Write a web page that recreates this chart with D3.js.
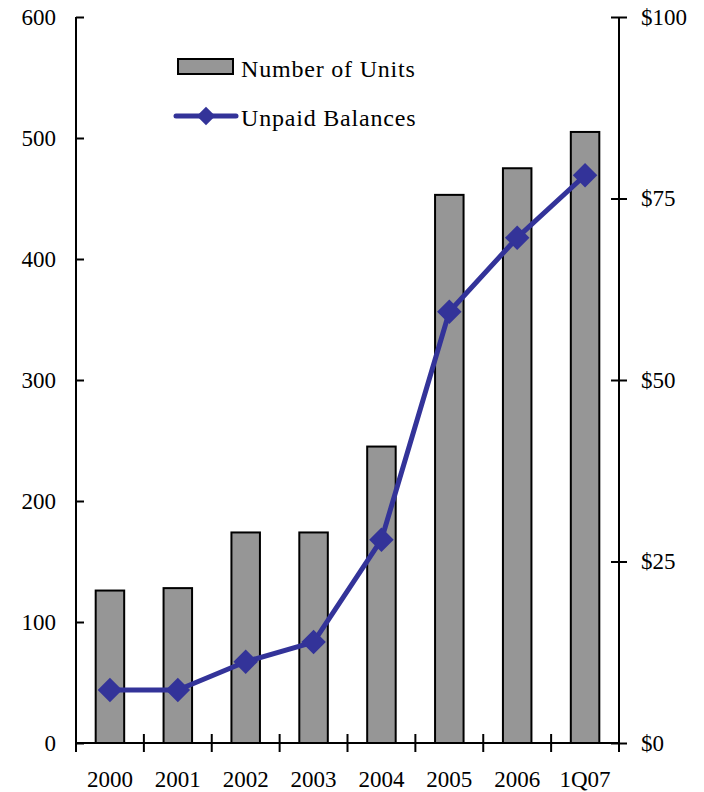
<!DOCTYPE html>
<html>
<head>
<meta charset="utf-8">
<script src="https://cdn.jsdelivr.net/npm/d3@7"></script>
<style>
  body { margin: 0; background: #fff; }
  text { font-family: "Liberation Serif", "Times New Roman", serif; fill: #000; }
</style>
</head>
<body>
<div id="chart"></div>
<script>
// data
var periods = ['2000', '2001', '2002', '2003', '2004', '2005', '2006', '1Q07'];
var units = [126, 128, 174, 174, 245, 453, 475, 505];
var balances = [7.3, 7.3, 11.2, 13.9, 28.0, 59.4, 69.6, 78.2];
var leftTicks = [0, 100, 200, 300, 400, 500, 600];
var rightTicks = [0, 25, 50, 75, 100];

var svgWidth = 704, svgHeight = 792;
var margin = { top: 17, left: 76, right: 85, bottom: 49 };
var w = svgWidth - margin.left - margin.right;
var h = svgHeight - margin.top - margin.bottom;

var svg = d3.select('#chart').append('svg')
  .attr('width', svgWidth)
  .attr('height', svgHeight);

var g = svg.append('g')
  .attr('transform', `translate(${margin.left}, ${margin.top})`);

var x = d3.scaleBand().domain(periods).range([0, w]).paddingInner(0.58).paddingOuter(0.29);
var xTicks = d3.scaleLinear().domain([0, periods.length]).range([0, w]);
var yLeft = d3.scaleLinear().domain([0, 600]).range([h, 0]);
var yRight = d3.scaleLinear().domain([0, 100]).range([h, 0]);

// bars
g.selectAll('rect.bar')
  .data(units)
  .enter()
  .append('rect')
  .attr('class', 'bar')
  .attr('x', (d, i) => x(periods[i]))
  .attr('y', d => yLeft(d))
  .attr('width', x.bandwidth())
  .attr('height', d => h - yLeft(d))
  .attr('fill', '#969696')
  .attr('stroke', '#000')
  .attr('stroke-width', 2);

// left axis
var leftAxis = g.append('g')
  .call(d3.axisLeft(yLeft).tickValues(leftTicks).tickSize(8).tickPadding(12));
leftAxis.select('.domain').attr('d', `M0,${h}V0`);
leftAxis.selectAll('.tick line').attr('x2', 8);

// right axis
var rightAxis = g.append('g')
  .attr('transform', `translate(${w}, 0)`)
  .call(d3.axisRight(yRight).tickValues(rightTicks).tickSize(8).tickPadding(14)
    .tickFormat(d => '$' + d));
rightAxis.select('.domain').attr('d', `M0,${h}V0`);
rightAxis.selectAll('.tick line').attr('x1', -8);

// bottom axis with ticks between categories
var bottom = g.append('g').attr('transform', `translate(0, ${h})`);
bottom.append('line')
  .attr('x1', 0).attr('x2', w)
  .attr('stroke', '#000').attr('stroke-width', 2);
bottom.selectAll('line.tk')
  .data(d3.range(periods.length + 1))
  .enter()
  .append('line')
  .attr('class', 'tk')
  .attr('x1', d => xTicks(d)).attr('x2', d => xTicks(d))
  .attr('y1', -9).attr('y2', 9)
  .attr('stroke', '#000').attr('stroke-width', 2);
bottom.selectAll('text')
  .data(periods)
  .enter()
  .append('text')
  .attr('x', d => x(d) + x.bandwidth() / 2)
  .attr('y', 44)
  .attr('text-anchor', 'middle')
  .style('font-size', '23px')
  .text(d => d);

g.selectAll('.tick text').style('font-size', '23px').attr('fill', '#000');
g.selectAll('.domain, .tick line').attr('stroke', '#000').attr('stroke-width', 2);

// line for unpaid balances
var line = d3.line()
  .x((d, i) => x(periods[i]) + x.bandwidth() / 2)
  .y(d => yRight(d));

g.append('path')
  .datum(balances)
  .attr('d', line)
  .attr('fill', 'none')
  .attr('stroke', '#333399')
  .attr('stroke-width', 5)
  .attr('stroke-linejoin', 'round');

var diamond = d3.symbol().type(d3.symbolSquare).size(300);
g.selectAll('path.pt')
  .data(balances)
  .enter()
  .append('path')
  .attr('class', 'pt')
  .attr('d', diamond)
  .attr('transform', (d, i) => `translate(${x(periods[i]) + x.bandwidth() / 2}, ${yRight(d)}) rotate(45)`)
  .attr('fill', '#333399');

// legend
var legend = svg.append('g');
legend.append('rect')
  .attr('x', 178).attr('y', 59)
  .attr('width', 55).attr('height', 15)
  .attr('fill', '#969696')
  .attr('stroke', '#000')
  .attr('stroke-width', 2);
legend.append('text')
  .attr('x', 241).attr('y', 77)
  .style('font-size', '24px')
  .style('letter-spacing', '0.8px')
  .text('Number of Units');

legend.append('line')
  .attr('x1', 176).attr('x2', 236)
  .attr('y1', 116).attr('y2', 116)
  .attr('stroke', '#333399')
  .attr('stroke-width', 5)
  .attr('stroke-linecap', 'round');
legend.append('path')
  .attr('d', d3.symbol().type(d3.symbolSquare).size(170))
  .attr('transform', 'translate(206, 116) rotate(45)')
  .attr('fill', '#333399');
legend.append('text')
  .attr('x', 241).attr('y', 126)
  .style('font-size', '24px')
  .style('letter-spacing', '0.8px')
  .text('Unpaid Balances');
</script>
</body>
</html>
